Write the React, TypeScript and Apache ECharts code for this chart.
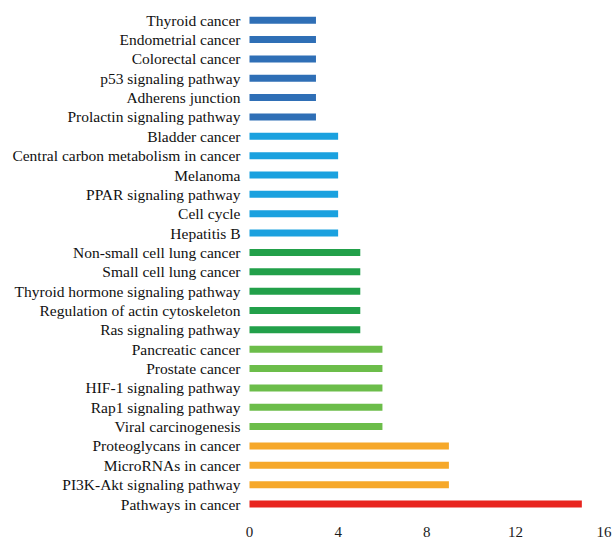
import React, { useEffect, useRef } from "react";
import * as echarts from "echarts";

// Pathways listed bottom-to-top (category axis starts at the bottom)
const pathways = [
  "Pathways in cancer",
  "PI3K-Akt signaling pathway",
  "MicroRNAs in cancer",
  "Proteoglycans in cancer",
  "Viral carcinogenesis",
  "Rap1 signaling pathway",
  "HIF-1 signaling pathway",
  "Prostate cancer",
  "Pancreatic cancer",
  "Ras signaling pathway",
  "Regulation of actin cytoskeleton",
  "Thyroid hormone signaling pathway",
  "Small cell lung cancer",
  "Non-small cell lung cancer",
  "Hepatitis B",
  "Cell cycle",
  "PPAR signaling pathway",
  "Melanoma",
  "Central carbon metabolism in cancer",
  "Bladder cancer",
  "Prolactin signaling pathway",
  "Adherens junction",
  "p53 signaling pathway",
  "Colorectal cancer",
  "Endometrial cancer",
  "Thyroid cancer",
];

const geneCounts = [15, 9, 9, 9, 6, 6, 6, 6, 6, 5, 5, 5, 5, 5, 4, 4, 4, 4, 4, 4, 3, 3, 3, 3, 3, 3];

const xTicks = [0, 4, 8, 12, 16];

// colour for each count group
const countColors: Record<number, string> = {
  15: "#e8251f",
  9: "#f6a82a",
  6: "#6cbd4a",
  5: "#22a04a",
  4: "#1ba1df",
  3: "#2f6fb6",
};

export default function App() {
  const ref = useRef<HTMLDivElement>(null);

  useEffect(() => {
    document.body.style.margin = "0";
    if (!ref.current) return;
    const chart = echarts.init(ref.current, undefined, { renderer: "svg" });
    const serif = "'Liberation Serif', 'DejaVu Serif', serif";
    chart.setOption({
      animation: false,
      backgroundColor: "#ffffff",
      grid: { left: 249.5, right: 12, top: 10.5, bottom: 28.3, containLabel: false },
      xAxis: {
        type: "value",
        min: xTicks[0],
        max: xTicks[xTicks.length - 1],
        interval: 4,
        axisLine: { show: false },
        axisTick: { show: false },
        splitLine: { show: false },
        axisLabel: { fontFamily: serif, fontSize: 15, color: "#1a1a1a", margin: 11 },
      },
      yAxis: {
        type: "category",
        data: pathways,
        axisLine: { show: false },
        axisTick: { show: false },
        axisLabel: {
          interval: 0,
          fontFamily: serif,
          fontSize: 15.5,
          color: "#111",
          margin: 9,
        },
      },
      series: [
        {
          type: "bar",
          barWidth: 7,
          data: geneCounts.map((v) => ({ value: v, itemStyle: { color: countColors[v] } })),
        },
      ],
    });
    return () => chart.dispose();
  }, []);

  return <div ref={ref} style={{ width: 616, height: 542 }} />;
}
